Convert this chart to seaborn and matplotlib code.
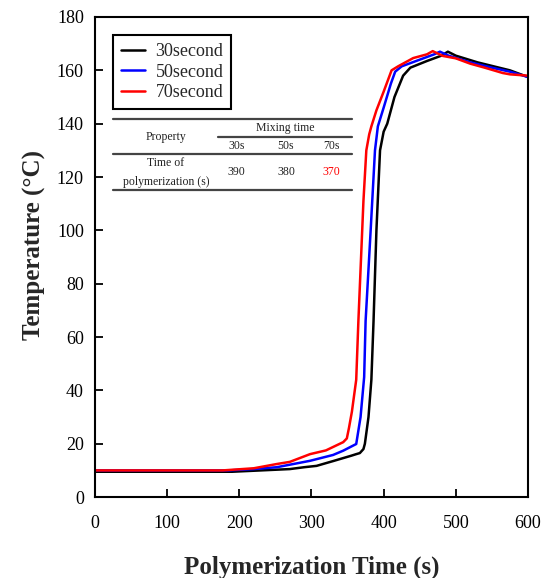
import matplotlib
matplotlib.use("Agg")
import matplotlib.pyplot as plt
import seaborn as sns
import pandas as pd

# Temperature profiles (time s, temperature C)
t_30 = [0, 100, 190, 230, 270, 290, 307, 330, 355, 362, 367, 372, 374, 379, 383, 386,
        390, 395, 400, 405, 415, 427, 437, 460, 480, 489, 500, 530, 560, 575, 600]
temp_30 = [9.5, 9.5, 9.5, 10, 10.5, 11.2, 11.7, 13.5, 15.5, 16.1, 16.5, 18, 20, 30, 44, 66,
           100, 130, 137, 140, 150, 158, 161, 163.5, 165.5, 167, 165.5, 163, 161, 160, 157.5]

t_50 = [0, 100, 185, 220, 252, 298, 330, 344, 362, 368, 373, 375, 382, 388, 392, 400,
        410, 416, 425, 450, 470, 478, 490, 520, 550, 575, 600]
temp_50 = [10, 10, 10, 10.5, 11.2, 13.6, 15.8, 17.4, 19.9, 30, 45, 66, 100, 130, 139, 146,
           155, 159.5, 161.5, 164, 166, 167, 165.5, 163, 161, 159.5, 157.5]

t_70 = [0, 100, 177, 220, 252, 270, 298, 320, 344, 349, 352, 356, 362, 365, 372, 376,
        380, 383, 390, 400, 411, 420, 441, 460, 468, 482, 500, 520, 540, 565, 575, 600]
temp_70 = [10, 10, 10, 10.8, 12.4, 13.2, 16.1, 17.5, 20.6, 22, 26, 32, 44, 66, 111, 130,
           136, 139, 145, 152, 160, 161.5, 164.6, 166, 167.2, 165.4, 164.5, 162.5, 161, 159, 158.5, 158]

series_names = ["30second", "50second", "70second"]
series_colors = ["black", "blue", "red"]

# Inset table content
mix_labels = ["30s", "50s", "70s"]
poly_times = ["390", "380", "370"]

frames = []
for name, tt, yy in zip(series_names, [t_30, t_50, t_70], [temp_30, temp_50, temp_70]):
    frames.append(pd.DataFrame({"time": tt, "temp": yy, "mix": name}))
df = pd.concat(frames, ignore_index=True)

sns.set_style("ticks")
plt.rcParams["font.family"] = ["Liberation Serif", "DejaVu Serif"]

fig = plt.figure(figsize=(5.51, 5.78), dpi=100)
ax = fig.add_axes([0.1724, 0.140, 0.7858, 0.8306])

sns.lineplot(data=df, x="time", y="temp", hue="mix", palette=series_colors,
             hue_order=series_names, estimator=None, sort=False, linewidth=1.8, ax=ax)

ax.set_xlim(0, 600)
ax.set_ylim(0, 180)
ax.set_xticks(range(0, 601, 100))
ax.set_yticks(range(0, 181, 20))
ax.tick_params(direction="in", length=6, width=1.3, labelsize=13, colors="black")
ax.tick_params(axis="x", pad=13)
ax.tick_params(axis="y", pad=8)
for sp in ax.spines.values():
    sp.set_linewidth(1.5)
    sp.set_color("black")

ax.set_xlabel("Polymerization Time (s)", fontsize=18, fontweight="bold", labelpad=17)
ax.set_ylabel("Temperature (\u00b0C)", fontsize=18, fontweight="bold", labelpad=8, y=0.525)

leg = ax.legend(loc="upper left", bbox_to_anchor=(0.0416, 0.9625), borderaxespad=0,
                fontsize=13, fancybox=False, framealpha=1, handlelength=1.3,
                handletextpad=0.6, labelspacing=0.2, borderpad=0.45)
leg.get_frame().set_edgecolor("black")
leg.get_frame().set_linewidth(1.5)

# Inset table drawn in axes fraction coordinates
tr = ax.transAxes
line_kw = dict(transform=tr, color="#444444", linewidth=1.6)
ax.plot([0.0416, 0.5935], [0.7875, 0.7875], **line_kw)
ax.plot([0.284, 0.5935], [0.750, 0.750], **line_kw)
ax.plot([0.0416, 0.5935], [0.7146, 0.7146], **line_kw)
ax.plot([0.0416, 0.5935], [0.6396, 0.6396], **line_kw)

tk = dict(transform=tr, fontsize=8.5, ha="center", va="center", color="#222222")
ax.text(0.164, 0.750, "Property", **tk)
ax.text(0.439, 0.769, "Mixing time", **tk)
ax.text(0.164, 0.696, "Time of", **tk)
ax.text(0.164, 0.656, "polymerization (s)", **tk)
for xf, lab, val in zip([0.326, 0.441, 0.545], mix_labels, poly_times):
    ax.text(xf, 0.731, lab, **tk)
    c = "red" if val == "370" else "#222222"
    ax.text(xf, 0.677, val, transform=tr, fontsize=8.5, ha="center", va="center", color=c)

fig.savefig("out.png", dpi=100)
